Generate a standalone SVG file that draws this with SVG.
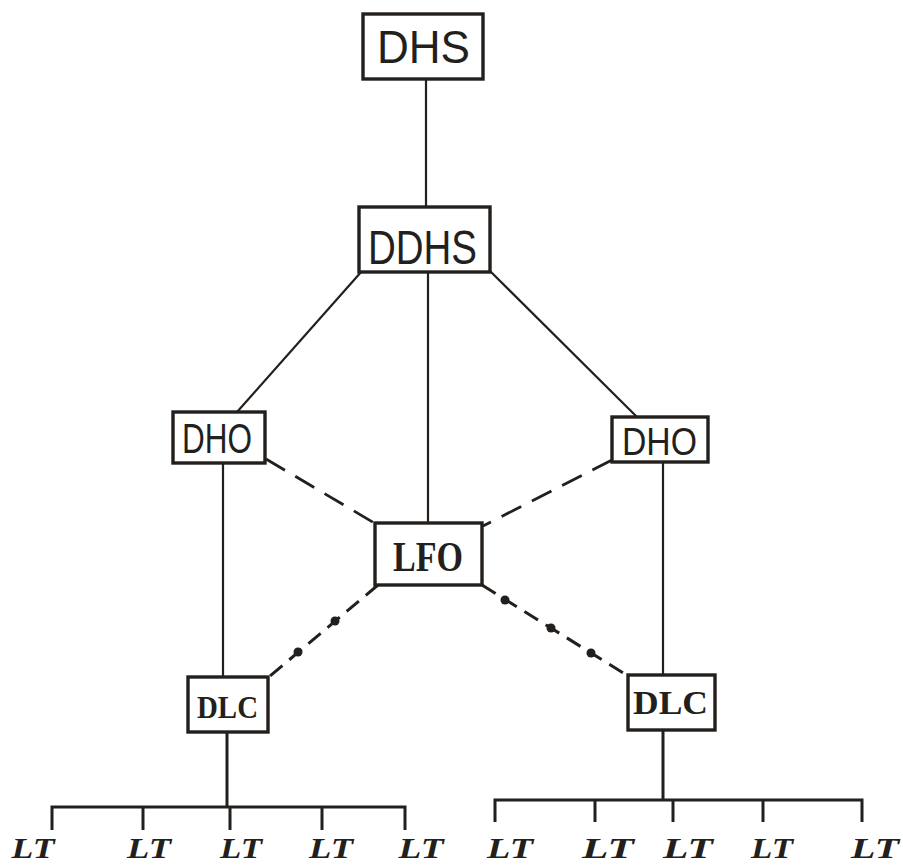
<svg xmlns="http://www.w3.org/2000/svg" width="903" height="867" viewBox="0 0 903 867">
<style>
.box{fill:#fff;stroke:#231f1c;stroke-width:3.4}
.ln{fill:none;stroke:#231f1c;stroke-width:2.2}
.dash{fill:none;stroke:#231f1c;stroke-width:2.8;stroke-dasharray:22 12}
.dd{fill:none;stroke:#231f1c;stroke-width:3;stroke-dasharray:16 9}
.dot{fill:#231f1c}
.bus{fill:none;stroke:#231f1c;stroke-width:3}
.hs{font-family:"Liberation Sans",Arial,sans-serif;fill:#231f1c}
.bs{font-family:"Liberation Serif","Times New Roman",serif;font-weight:bold;fill:#231f1c}
.lt{font-family:"Liberation Serif","Times New Roman",serif;font-weight:bold;font-style:italic;fill:#231f1c;font-size:29px;text-anchor:middle}
</style>
<rect width="903" height="867" fill="#fff"/>
<g id="connectors">
<line class="ln" x1="426" y1="79" x2="426" y2="207"/>
<line class="ln" x1="362" y1="271" x2="237" y2="412"/>
<line class="ln" x1="428" y1="272" x2="428" y2="523"/>
<line class="ln" x1="490" y1="271" x2="637" y2="417"/>
<line class="dash" x1="266" y1="459" x2="376" y2="524"/>
<line class="dash" x1="612" y1="460" x2="483" y2="526"/>
<line class="ln" x1="223" y1="463" x2="223" y2="677"/>
<line class="ln" x1="663" y1="462" x2="663" y2="675"/>
<line class="dd" x1="378" y1="585" x2="270" y2="676"/>
<circle class="dot" cx="335" cy="621" r="4.5"/>
<circle class="dot" cx="298" cy="652" r="4.5"/>
<line class="dd" x1="482" y1="585" x2="628" y2="676"/>
<circle class="dot" cx="505" cy="600" r="4.5"/>
<circle class="dot" cx="551" cy="628" r="4.5"/>
<circle class="dot" cx="591" cy="653" r="4.5"/>
<line class="bus" x1="227" y1="732" x2="227" y2="807"/>
<polyline class="bus" points="52,830 52,807 405,807 405,830"/>
<line class="bus" x1="143" y1="807" x2="143" y2="830"/>
<line class="bus" x1="230" y1="807" x2="230" y2="830"/>
<line class="bus" x1="322" y1="807" x2="322" y2="830"/>
<line class="bus" x1="663" y1="730" x2="663" y2="800"/>
<polyline class="bus" points="495,822 495,800 862,800 862,822"/>
<line class="bus" x1="595" y1="800" x2="595" y2="822"/>
<line class="bus" x1="673" y1="800" x2="673" y2="822"/>
<line class="bus" x1="763" y1="800" x2="763" y2="822"/>
</g>
<g id="DHS">
<rect class="box" x="363" y="14" width="120" height="65"/>
<text class="hs" x="377" y="63" font-size="46" textLength="93" lengthAdjust="spacingAndGlyphs">DHS</text>
</g>
<g id="DDHS">
<rect class="box" x="359" y="207" width="131" height="65"/>
<text class="hs" x="368" y="264" font-size="48" textLength="109" lengthAdjust="spacingAndGlyphs">DDHS</text>
</g>
<g id="DHO-left">
<rect class="box" x="173" y="412" width="92" height="51"/>
<text class="hs" x="182" y="453" font-size="42" textLength="70" lengthAdjust="spacingAndGlyphs">DHO</text>
</g>
<g id="DHO-right">
<rect class="box" x="612" y="417" width="96" height="45"/>
<text class="hs" x="622" y="455" font-size="39" textLength="75" lengthAdjust="spacingAndGlyphs">DHO</text>
</g>
<g id="LFO">
<rect class="box" x="375" y="523" width="107" height="62"/>
<text class="bs" x="393" y="571" font-size="43" textLength="70" lengthAdjust="spacingAndGlyphs">LFO</text>
</g>
<g id="DLC-left">
<rect class="box" x="188" y="677" width="80" height="55"/>
<text class="bs" x="197" y="718" font-size="32" textLength="61" lengthAdjust="spacingAndGlyphs">DLC</text>
</g>
<g id="DLC-right">
<rect class="box" x="628" y="675" width="87" height="55"/>
<text class="bs" x="633" y="714" font-size="33" textLength="75" lengthAdjust="spacingAndGlyphs">DLC</text>
</g>
<g id="LT-left">
<text class="lt" x="33" y="858" textLength="43" lengthAdjust="spacingAndGlyphs">LT</text>
<text class="lt" x="149" y="858" textLength="44" lengthAdjust="spacingAndGlyphs">LT</text>
<text class="lt" x="241" y="858" textLength="42" lengthAdjust="spacingAndGlyphs">LT</text>
<text class="lt" x="331" y="858" textLength="44" lengthAdjust="spacingAndGlyphs">LT</text>
<text class="lt" x="421" y="858" textLength="45" lengthAdjust="spacingAndGlyphs">LT</text>
</g>
<g id="LT-right">
<text class="lt" x="510" y="858" textLength="46" lengthAdjust="spacingAndGlyphs">LT</text>
<text class="lt" x="608" y="858" textLength="52" lengthAdjust="spacingAndGlyphs">LT</text>
<text class="lt" x="688" y="858" textLength="50" lengthAdjust="spacingAndGlyphs">LT</text>
<text class="lt" x="772" y="858" textLength="42" lengthAdjust="spacingAndGlyphs">LT</text>
<text class="lt" x="875" y="858" textLength="48" lengthAdjust="spacingAndGlyphs">LT</text>
</g>
</svg>
